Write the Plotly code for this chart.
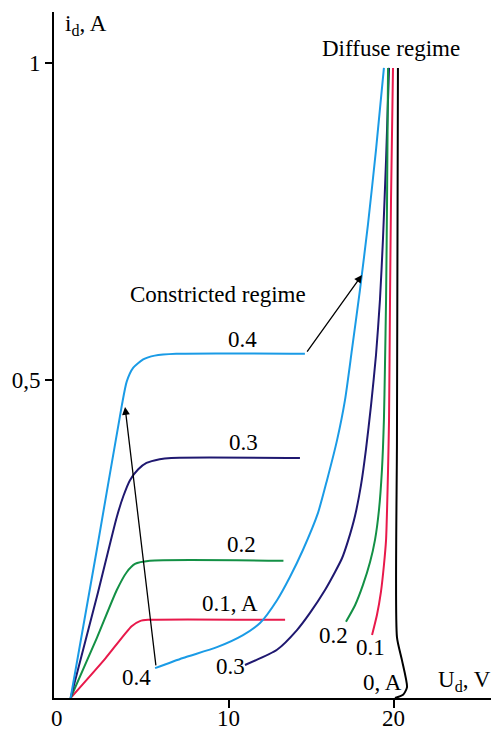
import plotly.graph_objects as go

# ---- Constricted regime branches (U_d in V, i_d in A)
c01_u = [0.4, 2.5, 4.1, 4.6, 5.1, 13.4]
c01_i = [0.0, 0.062, 0.113, 0.121, 0.123, 0.123]
c02_u = [0.4, 2.0, 3.2, 3.8, 4.3, 5.2, 13.3]
c02_i = [0.0, 0.095, 0.170, 0.198, 0.211, 0.216, 0.216]
c03_u = [0.4, 2.0, 3.2, 3.6, 4.0, 4.5, 5.0, 5.8, 6.5, 14.3]
c03_i = [0.0, 0.16, 0.285, 0.318, 0.343, 0.36, 0.370, 0.376, 0.378, 0.378]
c04_u = [0.4, 2.0, 3.5, 3.8, 4.2, 4.8, 5.5, 6.8, 14.6]
c04_i = [0.0, 0.235, 0.46, 0.498, 0.52, 0.533, 0.539, 0.542, 0.542]

# ---- Diffuse regime branches
d04_u = [5.52, 7.21, 9.27, 10.85, 11.88, 12.91, 13.70, 14.48, 15.39, 15.94, 16.55, 17.03, 17.45, 17.94, 18.42, 18.91, 19.39]
d04_i = [0.047, 0.063, 0.080, 0.099, 0.118, 0.154, 0.191, 0.233, 0.291, 0.343, 0.406, 0.469, 0.548, 0.643, 0.745, 0.863, 0.992]
d03_u = [10.97, 12.91, 14.12, 14.91, 15.82, 16.42, 16.85, 17.21, 17.64, 18.00, 18.30, 18.61, 18.91, 19.15, 19.33, 19.52, 19.70]
d03_i = [0.052, 0.076, 0.107, 0.134, 0.170, 0.198, 0.220, 0.247, 0.287, 0.335, 0.391, 0.461, 0.540, 0.627, 0.721, 0.847, 0.992]
d02_u = [17.09, 17.64, 18.12, 18.55, 18.85, 19.09, 19.27, 19.39, 19.45, 19.52, 19.58, 19.64]
d02_i = [0.120, 0.146, 0.178, 0.214, 0.249, 0.296, 0.359, 0.438, 0.517, 0.627, 0.784, 0.992]
d01_u = [18.67, 18.97, 19.21, 19.39, 19.52, 19.58, 19.64, 19.70, 19.76, 19.82, 19.94]
d01_i = [0.099, 0.131, 0.167, 0.209, 0.249, 0.296, 0.359, 0.438, 0.627, 0.784, 0.992]
d00_u = [20.06, 20.55, 20.79, 20.48, 20.18, 20.18, 20.24]
d00_i = [0.0, 0.005, 0.017, 0.060, 0.096, 0.406, 0.992]

# ---- Tick labels
y_tickvals = [0.5, 1.0]
y_ticktext = ["0,5", "1"]
x_tickvals = [10, 20]
x_ticktext = ["10", "20"]

BLUE = "#1a9be6"
NAVY = "#1f1870"
GREEN = "#139045"
RED = "#e8194b"
BLACK = "#000000"
FONT = "Liberation Serif, Times New Roman, serif"
FS = 23

fig = go.Figure()
series = [
    (c01_u, c01_i, RED), (c02_u, c02_i, GREEN), (c03_u, c03_i, NAVY), (c04_u, c04_i, BLUE),
    (d04_u, d04_i, BLUE), (d03_u, d03_i, NAVY), (d02_u, d02_i, GREEN), (d01_u, d01_i, RED),
    (d00_u, d00_i, BLACK),
]
for u, i, col in series:
    fig.add_trace(go.Scatter(x=u, y=i, mode="lines",
                             line=dict(color=col, width=2, shape="spline", smoothing=0.6),
                             showlegend=False, hoverinfo="skip"))

labels = [
    ("0.4", 10.79, 0.564), ("0.3", 10.85, 0.403), ("0.2", 10.73, 0.241), ("0.1, A", 10.06, 0.148),
    ("0.4", 4.42, 0.033), ("0.3", 10.12, 0.049), ("0.2", 16.36, 0.099), ("0.1", 18.55, 0.079),
    ("0, A", 19.33, 0.025), ("Constricted regime", 9.36, 0.635), ("Diffuse regime", 19.82, 1.022),
]
ann = []
for t, x, y in labels:
    ann.append(dict(x=x, y=y, xref="x", yref="y", text=t, showarrow=False,
                    font=dict(family=FONT, size=FS, color="black"),
                    xanchor="center", yanchor="middle"))
ann.append(dict(x=-0.06, y=1.06, xref="x", yref="y", text="i<sub>d</sub>, A", showarrow=False,
                font=dict(family=FONT, size=FS, color="black"), xanchor="left", yanchor="middle"))
ann.append(dict(x=22.55, y=0.027, xref="x", yref="y", text="U<sub>d</sub>, V", showarrow=False,
                font=dict(family=FONT, size=FS, color="black"), xanchor="left", yanchor="middle"))
# x tick labels (origin label sits at the axis corner)
for t, x in [("0", -0.42)] + list(zip(x_ticktext, x_tickvals)):
    ann.append(dict(x=x, y=-0.030, xref="x", yref="paper", text=t, showarrow=False,
                    font=dict(family=FONT, size=FS, color="black"), xanchor="center", yanchor="middle"))
# arrows
ann.append(dict(x=3.70, y=0.458, ax=5.58, ay=0.049, xref="x", yref="y", axref="x", ayref="y",
                text="", showarrow=True, arrowhead=2, arrowsize=1.2, arrowwidth=1.3, arrowcolor="black"))
ann.append(dict(x=18.06, y=0.666, ax=14.67, ay=0.543, xref="x", yref="y", axref="x", ayref="y",
                text="", showarrow=True, arrowhead=2, arrowsize=1.2, arrowwidth=1.3, arrowcolor="black"))

fig.update_layout(
    width=491, height=729,
    margin=dict(l=54, r=0, t=12, b=31, autoexpand=False),
    paper_bgcolor="white", plot_bgcolor="white",
    annotations=ann,
    xaxis=dict(range=[-0.606, 25.88], showgrid=False, zeroline=False, showline=True, automargin=False,
               linecolor="black", linewidth=2, ticks="outside", ticklen=8, tickwidth=1.5,
               tickcolor="black", tickvals=x_tickvals, showticklabels=False),
    yaxis=dict(range=[0, 1.08], showgrid=False, zeroline=False, showline=True, automargin=False,
               linecolor="black", linewidth=2, ticks="outside", ticklen=7, tickwidth=1.5,
               tickcolor="black", tickvals=y_tickvals, ticktext=y_ticktext,
               tickfont=dict(family=FONT, size=FS, color="black")),
)
fig.write_html("out.html", config={"displayModeBar": False},
               post_script="document.body.style.margin='0';document.body.style.overflow='hidden';")
